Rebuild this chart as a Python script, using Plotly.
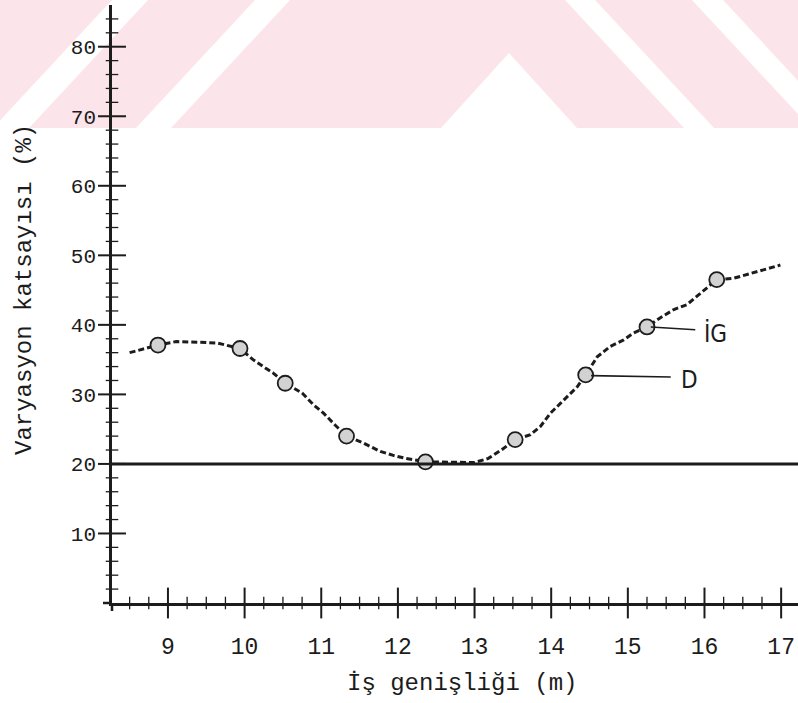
import plotly.graph_objects as go

# Coefficient of variation against working width
width_m = [8.50, 8.87, 9.11, 9.35, 9.64, 9.94, 10.11, 10.27, 10.37, 10.53,
           10.75, 10.90, 11.03, 11.18, 11.33, 11.55, 11.77, 11.95, 12.10, 12.36,
           12.70, 13.00, 13.18, 13.35, 13.53, 13.73, 13.86, 13.99, 14.12, 14.25,
           14.34, 14.45, 14.60, 14.77, 14.94, 15.07, 15.25, 15.42, 15.60, 15.77,
           15.95, 16.16, 16.38, 16.60, 16.77, 16.99]
cv_pct = [36.0, 37.1, 37.6, 37.5, 37.4, 36.6, 35.0, 33.8, 33.1, 31.6,
          30.2, 28.5, 27.3, 25.6, 24.0, 23.0, 21.8, 21.2, 20.8, 20.3,
          20.2, 20.2, 20.8, 22.0, 23.5, 24.2, 25.4, 27.3, 28.7, 30.2,
          31.1, 32.8, 35.4, 36.9, 37.8, 38.8, 39.7, 41.0, 42.2, 42.9,
          44.6, 46.5, 46.7, 47.4, 47.9, 48.6]

# Measured points (circles)
point_x = [8.87, 9.94, 10.53, 11.33, 12.36, 13.53, 14.45, 15.25, 16.16]
point_y = [37.1, 36.6, 31.6, 24.0, 20.3, 23.5, 32.8, 39.7, 46.5]

# Acceptable limit
limit_pct = 20

x_ticks = [9, 10, 11, 12, 13, 14, 15, 16, 17]
y_ticks = [10, 20, 30, 40, 50, 60, 70, 80]
X_MINOR_STEP = 0.25
Y_MINOR_STEP = 2

# Curve labels: (label, point x, point y, leader end x, leader end y, text x, text y)
curve_labels = [
    ("İG", 15.30, 39.7, 15.88, 39.3, 16.15, 38.7),
    ("D", 14.52, 32.7, 15.56, 32.5, 15.80, 32.1),
]

W, H = 798, 703
L, R, T, B = 112, 0, 5, 100
PW, PH = W - L - R, H - T - B
X_RANGE = [8.27, 17.22]
Y_RANGE = [0, 86]

INK = "#1c1c1c"
MONO = "Liberation Mono, Courier New, monospace"


def px(x):
    return (x - L) / PW


def py(y):
    return 1 - (y - T) / PH


def poly(points):
    return "M " + " L ".join(f"{px(a):.4f},{py(b):.4f}" for a, b in points) + " Z"


def minor_positions(lo, hi, step, majors):
    out, k = [], 1
    while lo + k * step < hi:
        v = round(lo + k * step, 4)
        if all(abs(v - m) > 1e-6 for m in majors):
            out.append(v)
        k += 1
    return out


x_minor = minor_positions(X_RANGE[0] - (X_RANGE[0] % X_MINOR_STEP), X_RANGE[1],
                          X_MINOR_STEP, x_ticks)
x_minor = [v for v in x_minor if v > X_RANGE[0]]
y_minor = minor_positions(0, Y_RANGE[1], Y_MINOR_STEP, y_ticks)

fig = go.Figure()


# tick marks crossing the axes
def tick_trace(xs, ys, symbol, size, width):
    return go.Scatter(x=xs, y=ys, mode="markers", cliponaxis=False,
                      marker=dict(symbol=symbol, size=size,
                                  line=dict(color=INK, width=width)),
                      showlegend=False, hoverinfo="skip")


fig.add_trace(tick_trace(x_ticks, [0] * len(x_ticks), "line-ns", 22, 2))
fig.add_trace(tick_trace(x_minor, [0] * len(x_minor), "line-ns", 9, 1.3))
fig.add_trace(tick_trace([X_RANGE[0]] * len(y_ticks), y_ticks, "line-ew", 20, 2))
fig.add_trace(tick_trace([X_RANGE[0]] * len(y_minor), y_minor, "line-ew", 9, 1.3))

fig.add_trace(go.Scatter(
    x=width_m, y=cv_pct, mode="lines",
    line=dict(color=INK, width=3, dash="6px,3px"),
    showlegend=False, hoverinfo="skip",
))
fig.add_trace(go.Scatter(
    x=point_x, y=point_y, mode="markers",
    marker=dict(symbol="circle", size=15, color="#d2d2d2",
                line=dict(color=INK, width=1.8)),
    showlegend=False,
))

shapes = []

# pale watermark band across the top of the page
pink = "rgb(251,229,235)"
shapes.append(dict(type="rect", xref="paper", yref="paper",
                   x0=px(0), x1=px(W), y0=py(0), y1=py(128),
                   fillcolor=pink, line=dict(width=0), layer="below"))
for pts in [
    [(112, 0), (148, 0), (29, 128), (-7, 128)],
    [(255, 0), (290, 0), (171, 128), (136, 128)],
    [(509, 53), (577, 128), (441, 128)],
    [(565, 0), (595, 0), (714, 128), (684, 128)],
    [(692, 0), (723, 0), (842, 128), (811, 128)],
]:
    shapes.append(dict(type="path", xref="paper", yref="paper", path=poly(pts),
                       fillcolor="white", line=dict(width=0), layer="below"))

# limit line
shapes.append(dict(type="line", xref="paper", yref="y", x0=0, x1=1,
                   y0=limit_pct, y1=limit_pct,
                   line=dict(color=INK, width=3)))

# axis stubs past the origin
shapes.append(dict(type="line", xref="paper", yref="paper",
                   x0=px(103), x1=0, y0=0, y1=0,
                   line=dict(color=INK, width=2.5)))
shapes.append(dict(type="line", xref="paper", yref="paper",
                   x0=0, x1=0, y0=0, y1=py(611),
                   line=dict(color=INK, width=2.5)))

annotations = []
for name, x0, y0, x1, y1, tx, ty in curve_labels:
    shapes.append(dict(type="line", xref="x", yref="y", x0=x0, y0=y0, x1=x1, y1=y1,
                       line=dict(color=INK, width=1.6)))
    annotations.append(dict(x=tx, y=ty, xref="x", yref="y", text=name,
                            showarrow=False, xanchor="center", yanchor="middle",
                            font=dict(family="DejaVu Sans Condensed, DejaVu Sans, sans-serif",
                                      size=24, color=INK)))

annotations.append(dict(x=px(462), y=py(683), xref="paper", yref="paper",
                        text="İş genişliği (m)", showarrow=False,
                        xanchor="center", yanchor="middle",
                        font=dict(family=MONO, size=24, color=INK)))
annotations.append(dict(x=px(24), y=py(290), xref="paper", yref="paper",
                        text="Varyasyon katsayısı (%)", showarrow=False, textangle=-90,
                        xanchor="center", yanchor="middle",
                        font=dict(family=MONO, size=24, color=INK)))

fig.update_layout(
    width=W, height=H,
    margin=dict(l=L, r=R, t=T, b=B, pad=0),
    paper_bgcolor="white", plot_bgcolor="rgba(0,0,0,0)",
    shapes=shapes, annotations=annotations,
    xaxis=dict(showgrid=False, zeroline=False, linecolor=INK, range=X_RANGE,
               showline=True, linewidth=2.5,
               tickmode="array", tickvals=x_ticks, ticktext=[str(v) for v in x_ticks],
               ticks="", ticklabelstandoff=21,
               tickfont=dict(family=MONO, size=23, color=INK)),
    yaxis=dict(showgrid=False, zeroline=False, linecolor=INK, range=Y_RANGE,
               showline=True, linewidth=2.5,
               tickmode="array", tickvals=y_ticks, ticktext=[str(v) for v in y_ticks],
               ticks="", ticklabelstandoff=9,
               tickfont=dict(family=MONO, size=21, color=INK)),
)

fig.write_html("out.html")
